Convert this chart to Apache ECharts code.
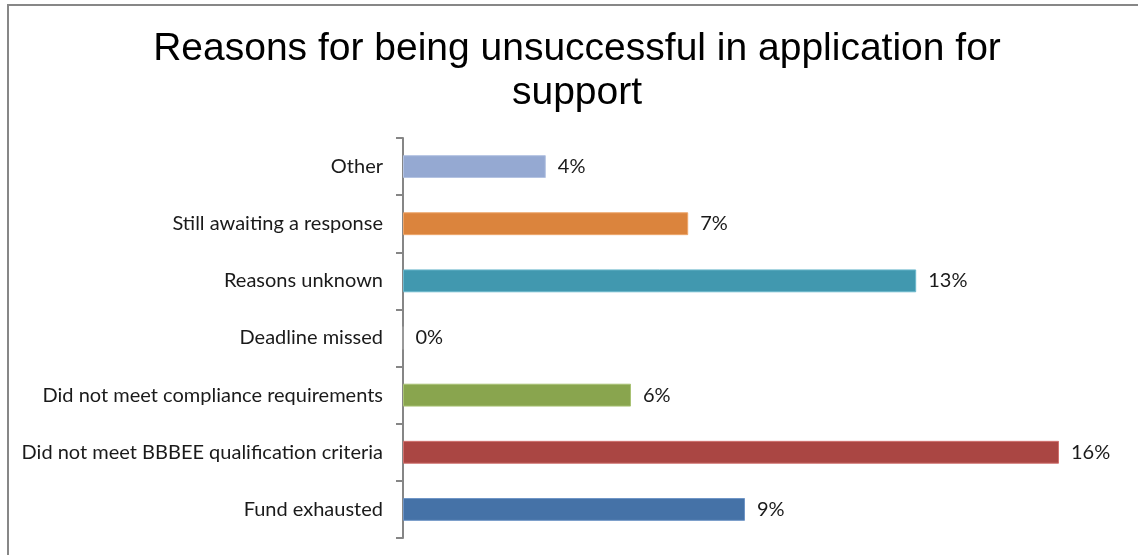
<!DOCTYPE html>
<html>
<head>
<meta charset="utf-8">
<script src="https://cdn.jsdelivr.net/npm/echarts@6/dist/echarts.min.js"></script>
<style>
  html, body { margin: 0; padding: 0; background: #ffffff; }
  #chart { width: 1138px; height: 555px; }
</style>
</head>
<body>
<div id="chart"></div>
<script>
// Reasons listed top to bottom
const categories = [
  'Other',
  'Still awaiting a response',
  'Reasons unknown',
  'Deadline missed',
  'Did not meet compliance requirements',
  'Did not meet BBBEE qualification criteria',
  'Fund exhausted'
];
// Share of respondents (%)
const shares = [3.57, 7.13, 12.83, 0, 5.7, 16.4, 8.55];
const barColors = ['#95A9D2', '#DB843D', '#4198AF', '#7F7F7F', '#89A54E', '#AA4643', '#4572A7'];
const borderColors = ['#B4C3E2', '#EDA66B', '#6CB8CC', '#A0A0A0', '#A9C274', '#D0716E', '#6F95C6'];
const chartTitle = 'Reasons for being unsuccessful in application for\nsupport';

const chart = echarts.init(document.getElementById('chart'), null, { renderer: 'canvas' });

chart.setOption({
  animation: false,
  backgroundColor: '#ffffff',
  graphic: [
    {
      type: 'rect',
      shape: { x: 8, y: 5, width: 1200, height: 600 },
      style: { fill: 'none', stroke: '#878787', lineWidth: 2 },
      silent: true
    },
    {
      type: 'text',
      x: 577,
      y: 27,
      style: {
        text: chartTitle,
        align: 'center',
        verticalAlign: 'top',
        fontFamily: 'Liberation Sans, Arial, sans-serif',
        fontSize: 39,
        lineHeight: 44,
        fill: '#000000'
      },
      silent: true
    }
  ],
  grid: { left: 403, right: 15, top: 138, bottom: 17 },
  xAxis: {
    type: 'value',
    min: 0,
    max: 18,
    show: false
  },
  yAxis: {
    type: 'category',
    inverse: true,
    data: categories,
    axisLine: { show: true, lineStyle: { color: '#868686', width: 2 } },
    axisTick: { show: true, length: 7, lineStyle: { color: '#868686', width: 2 } },
    axisLabel: {
      margin: 20,
      fontFamily: 'Lato, Noto Sans, sans-serif',
      fontSize: 20,
      color: '#1a1a1a'
    },
    splitLine: { show: false }
  },
  series: [{
    type: 'bar',
    barWidth: '40%',
    data: shares.map((v, i) => ({
      value: v,
      itemStyle: { color: barColors[i], borderColor: borderColors[i], borderWidth: 1 }
    })),
    label: {
      show: true,
      position: 'right',
      distance: 12,
      fontFamily: 'Lato, Noto Sans, sans-serif',
      fontSize: 20,
      color: '#1a1a1a',
      formatter: p => Math.round(p.value) + '%'
    }
  }]
});
</script>
</body>
</html>
